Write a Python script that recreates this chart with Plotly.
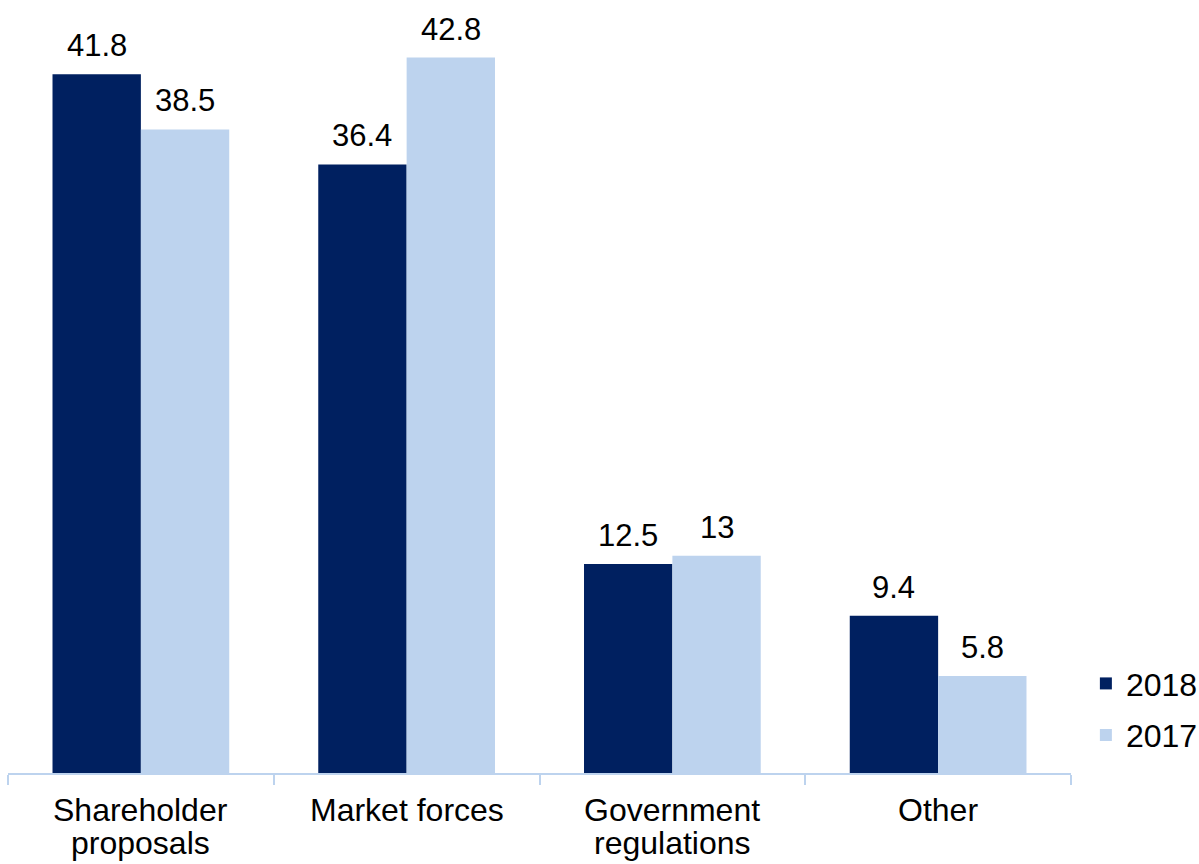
import plotly.graph_objects as go

categories = ["Shareholder<br>proposals", "Market forces", "Government<br>regulations", "Other"]
values_2018 = [41.8, 36.4, 12.5, 9.4]
values_2017 = [38.5, 42.8, 13.0, 5.8]
series_names = ["2018", "2017"]

NAVY = "#002060"
LIGHT = "#BDD3EE"
FONT = "Liberation Sans, Arial, sans-serif"
FS_VAL = 31
FS_CAT = 32
LINE_H = 33

fig = go.Figure()
fig.add_trace(go.Bar(x=categories, y=values_2018, name=series_names[0],
                     marker=dict(color=NAVY, line=dict(width=0)),
                     legendgroup="a"))
fig.add_trace(go.Bar(x=categories, y=values_2017, name=series_names[1],
                     marker=dict(color=LIGHT, line=dict(width=0)),
                     legendgroup="b"))

# value labels above each bar
half = (1 - 0.335) / 4
for i, (a, b) in enumerate(zip(values_2018, values_2017)):
    for off, v in ((-half, a), (half, b)):
        fig.add_annotation(x=i + off, y=v, text=f"{v:g}", showarrow=False,
                           yanchor="bottom", yshift=9,
                           font=dict(size=FS_VAL, color="black", family=FONT))

# category labels below the axis, with tight line spacing
for i, cat in enumerate(categories):
    for k, line in enumerate(cat.split("<br>")):
        fig.add_annotation(x=i, y=0, yref="paper", text=line, showarrow=False,
                           yanchor="top", yshift=-17 - k * LINE_H,
                           font=dict(size=FS_CAT, color="black", family=FONT))

fig.update_layout(
    width=1199, height=864,
    margin=dict(l=8, r=128, t=4, b=91, autoexpand=False),
    paper_bgcolor="white", plot_bgcolor="white",
    barmode="group", bargap=0.335, bargroupgap=0,
    font=dict(family=FONT, size=FS_CAT, color="black"),
    showlegend=True,
    legend=dict(x=1.014, xanchor="left", y=0.152, yanchor="top",
                font=dict(size=FS_CAT), tracegroupgap=7,
                itemwidth=30, bgcolor="rgba(0,0,0,0)"),
    xaxis=dict(showline=True, linecolor=LIGHT, linewidth=2,
               ticks="outside", tickson="boundaries", ticklen=10,
               tickcolor=LIGHT, tickwidth=2, showgrid=False,
               showticklabels=False),
    yaxis=dict(range=[0, 46], visible=False, showgrid=False),
)

fig.write_html("out.html")
